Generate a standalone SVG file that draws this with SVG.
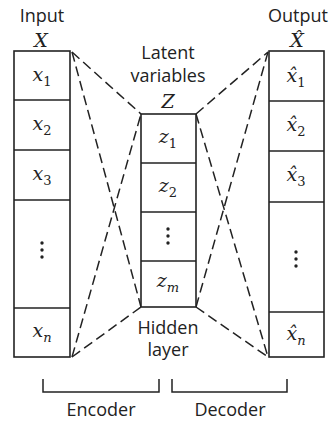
<svg xmlns="http://www.w3.org/2000/svg" width="330" height="424" viewBox="0 0 330 424">
<style>
.lbl{font-family:"Open Sans","Noto Sans",sans-serif;font-size:18px;fill:#222;text-anchor:middle}
.m{font-family:"DejaVu Serif","Liberation Serif",serif;font-style:italic;font-size:19px;fill:#222;text-anchor:middle}
.s{font-style:normal;font-size:13px}
.si{font-style:italic;font-size:13px}
.box{fill:#fff;stroke:#222;stroke-width:1.6}
.dash{fill:none;stroke:#222;stroke-width:1.5;stroke-dasharray:10 5}
.br{fill:none;stroke:#222;stroke-width:1.5}
.dot{fill:#222}
</style>
<rect width="330" height="424" fill="#fff"/>
<g id="connectors">
<line class="dash" x1="72" y1="52" x2="141" y2="114"/>
<line class="dash" x1="72" y1="52" x2="141" y2="307"/>
<line class="dash" x1="72" y1="357" x2="141" y2="114"/>
<line class="dash" x1="72" y1="357" x2="141" y2="307"/>
<line class="dash" x1="196" y1="114" x2="268" y2="52"/>
<line class="dash" x1="196" y1="114" x2="268" y2="357"/>
<line class="dash" x1="196" y1="307" x2="268" y2="52"/>
<line class="dash" x1="196" y1="307" x2="268" y2="357"/>
</g>
<g id="input">
<text class="lbl" x="42" y="22">Input</text>
<text class="m" x="41" y="47">X</text>
<rect class="box" x="14" y="51" width="56" height="306"/>
<line class="box" x1="14" y1="100" x2="70" y2="100"/>
<line class="box" x1="14" y1="150" x2="70" y2="150"/>
<line class="box" x1="14" y1="200" x2="70" y2="200"/>
<line class="box" x1="14" y1="308" x2="70" y2="308"/>
<text class="m" x="42" y="81">x<tspan class="s" dy="5">1</tspan></text>
<text class="m" x="42" y="130">x<tspan class="s" dy="5">2</tspan></text>
<text class="m" x="42" y="180">x<tspan class="s" dy="5">3</tspan></text>
<circle class="dot" cx="42" cy="243" r="1.7"/>
<circle class="dot" cx="42" cy="250" r="1.7"/>
<circle class="dot" cx="42" cy="257" r="1.7"/>
<text class="m" x="42" y="337">x<tspan class="si" dy="5">n</tspan></text>
</g>
<g id="latent">
<text class="lbl" x="168" y="59">Latent</text>
<text class="lbl" x="168" y="82">variables</text>
<text class="m" x="168" y="108">Z</text>
<rect class="box" x="141" y="114" width="55" height="193"/>
<line class="box" x1="141" y1="163" x2="196" y2="163"/>
<line class="box" x1="141" y1="212" x2="196" y2="212"/>
<line class="box" x1="141" y1="261" x2="196" y2="261"/>
<text class="m" x="168" y="143">z<tspan class="s" dy="5">1</tspan></text>
<text class="m" x="168" y="192">z<tspan class="s" dy="5">2</tspan></text>
<circle class="dot" cx="168" cy="229" r="1.7"/>
<circle class="dot" cx="168" cy="236" r="1.7"/>
<circle class="dot" cx="168" cy="243" r="1.7"/>
<text class="m" x="168" y="287">z<tspan class="si" dy="5">m</tspan></text>
<text class="lbl" x="168" y="334">Hidden</text>
<text class="lbl" x="168" y="356">layer</text>
</g>
<g id="output">
<text class="lbl" x="298" y="22">Output</text>
<text class="m" x="297" y="47">X̂</text>
<rect class="box" x="269" y="51" width="55" height="306"/>
<line class="box" x1="269" y1="101" x2="324" y2="101"/>
<line class="box" x1="269" y1="151" x2="324" y2="151"/>
<line class="box" x1="269" y1="202" x2="324" y2="202"/>
<line class="box" x1="269" y1="312" x2="324" y2="312"/>
<text class="m" x="296" y="82">x̂<tspan class="s" dy="5">1</tspan></text>
<text class="m" x="296" y="131">x̂<tspan class="s" dy="5">2</tspan></text>
<text class="m" x="296" y="181">x̂<tspan class="s" dy="5">3</tspan></text>
<circle class="dot" cx="296" cy="252" r="1.7"/>
<circle class="dot" cx="296" cy="259" r="1.7"/>
<circle class="dot" cx="296" cy="266" r="1.7"/>
<text class="m" x="296" y="340">x̂<tspan class="si" dy="5">n</tspan></text>
</g>
<g id="encoder">
<path class="br" d="M43,379 V392 H159 V379"/>
<text class="lbl" x="101" y="416">Encoder</text>
</g>
<g id="decoder">
<path class="br" d="M172,379 V392 H287 V379"/>
<text class="lbl" x="230" y="416">Decoder</text>
</g>
</svg>
